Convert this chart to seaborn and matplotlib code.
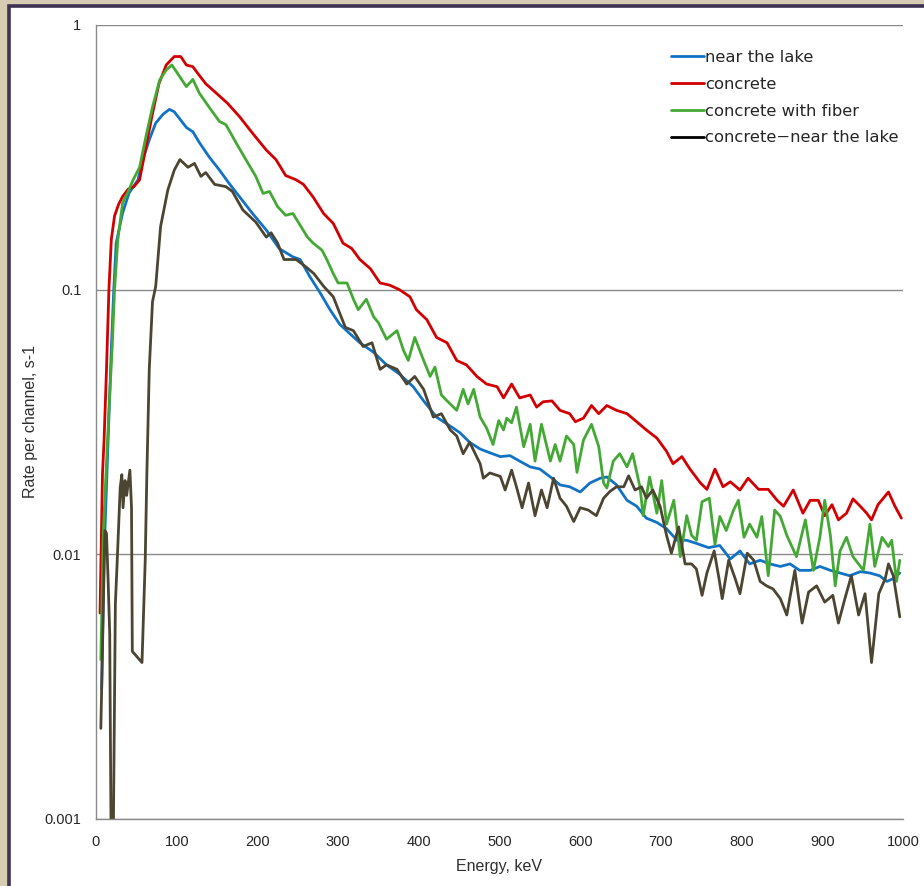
import matplotlib
matplotlib.use("Agg")
import matplotlib.pyplot as plt
from matplotlib.patches import Rectangle
from matplotlib.ticker import NullLocator, FixedLocator, FixedFormatter
import seaborn as sns
import pandas as pd

# ---------------- data ----------------
series_names = ["near the lake", "concrete", "concrete with fiber", "concrete\u2212near the lake"]

lake_energy = [7, 10, 15, 19, 22, 25, 33, 41, 52, 58, 66, 74, 83, 91, 97, 105, 112, 120, 128, 140,
               153, 165, 178, 194, 211, 227, 244, 253, 265, 278, 290, 302, 315, 327, 344, 360, 376, 393, 406, 422,
               439, 451, 463, 476, 488, 501, 513, 525, 538, 550, 563, 575, 587, 600, 612, 625, 633, 645, 658, 670,
               682, 695, 707, 720, 732, 744, 759, 773, 786, 798, 810, 823, 835, 848, 860, 872, 885, 897, 910, 922,
               934, 947, 959, 971, 980, 988, 996]
lake_rate = [0.0031, 0.01, 0.027, 0.06, 0.1, 0.15, 0.195, 0.232, 0.26, 0.31, 0.368, 0.426, 0.46, 0.48, 0.47, 0.437, 0.41, 0.395, 0.36, 0.318,
             0.283, 0.252, 0.224, 0.194, 0.168, 0.143, 0.133, 0.13, 0.112, 0.097, 0.084, 0.074, 0.068, 0.063, 0.058, 0.052, 0.048, 0.043, 0.038, 0.033,
             0.0305, 0.0288, 0.0265, 0.025, 0.0242, 0.0234, 0.0236, 0.0225, 0.0214, 0.021, 0.0196, 0.0183, 0.018, 0.0172, 0.0186, 0.0194, 0.0196, 0.0183, 0.016, 0.0152,
             0.0137, 0.0132, 0.0125, 0.0113, 0.0113, 0.011, 0.0106, 0.0108, 0.0096, 0.0103, 0.0092, 0.0095, 0.0092, 0.009, 0.0092, 0.0087, 0.0087, 0.009, 0.0087, 0.0085,
             0.0083, 0.0086, 0.0085, 0.0083, 0.0079, 0.0081, 0.0085]

concrete_energy = [5, 8, 10, 13, 16, 19, 23, 28, 33, 40, 47, 54, 62, 70, 78, 87, 97, 105, 112, 120,
                   126, 136, 149, 163, 178, 194, 211, 223, 235, 248, 257, 269, 282, 294, 306, 317, 327, 340, 352, 364,
                   376, 389, 397, 410, 422, 435, 447, 459, 472, 484, 497, 505, 515, 525, 538, 546, 554, 565, 575, 587,
                   594, 604, 614, 623, 633, 645, 658, 670, 682, 695, 707, 715, 726, 736, 749, 757, 767, 777, 786, 798,
                   808, 821, 833, 844, 852, 864, 876, 885, 895, 903, 912, 920, 930, 938, 947, 955, 961, 969, 982, 990, 998]
concrete_rate = [0.006, 0.02, 0.027, 0.05, 0.1, 0.155, 0.19, 0.21, 0.225, 0.24, 0.245, 0.26, 0.347, 0.463, 0.6, 0.706, 0.76, 0.76, 0.706, 0.696,
                 0.657, 0.6, 0.553, 0.506, 0.45, 0.39, 0.337, 0.31, 0.27, 0.26, 0.25, 0.224, 0.194, 0.178, 0.15, 0.143, 0.13, 0.12, 0.106, 0.104,
                 0.1, 0.094, 0.084, 0.077, 0.066, 0.063, 0.054, 0.052, 0.047, 0.044, 0.043, 0.039, 0.044, 0.039, 0.04, 0.036, 0.0377, 0.038, 0.035, 0.034,
                 0.0317, 0.0327, 0.0365, 0.034, 0.0365, 0.035, 0.034, 0.0317, 0.0295, 0.0275, 0.0245, 0.022, 0.0234, 0.021, 0.0186, 0.0176, 0.021, 0.018, 0.0188, 0.0175,
                 0.0194, 0.0176, 0.0176, 0.016, 0.0152, 0.0175, 0.0143, 0.016, 0.016, 0.014, 0.0154, 0.0135, 0.0143, 0.0162, 0.0152, 0.0143, 0.0135, 0.0154, 0.0172, 0.0152, 0.0137]

fiber_energy = [6, 9, 13, 16, 20, 23, 27, 33, 40, 46, 54, 62, 70, 79, 87, 94, 101, 112, 120, 128,
                140, 153, 161, 174, 186, 198, 207, 215, 225, 235, 244, 254, 262, 269, 280, 286, 294, 300, 311, 319,
                325, 335, 344, 350, 360, 373, 381, 387, 395, 404, 414, 420, 428, 435, 447, 455, 461, 468, 476, 484,
                492, 499, 505, 509, 515, 521, 530, 538, 544, 552, 563, 569, 575, 583, 592, 596, 604, 614, 623, 629,
                633, 641, 649, 658, 665, 674, 678, 686, 695, 701, 707, 716, 724, 732, 738, 744, 751, 760, 767, 773,
                781, 790, 796, 803, 810, 819, 825, 833, 841, 848, 856, 868, 879, 889, 897, 903, 910, 916, 922, 930,
                938, 951, 959, 965, 974, 982, 986, 992, 996]
fiber_rate = [0.004, 0.012, 0.022, 0.035, 0.06, 0.1, 0.154, 0.213, 0.235, 0.26, 0.29, 0.38, 0.49, 0.62, 0.676, 0.706, 0.657, 0.585, 0.623, 0.553,
              0.49, 0.432, 0.42, 0.357, 0.309, 0.268, 0.231, 0.235, 0.206, 0.191, 0.194, 0.173, 0.158, 0.15, 0.141, 0.13, 0.115, 0.106, 0.106, 0.092,
              0.084, 0.092, 0.079, 0.075, 0.065, 0.07, 0.059, 0.054, 0.066, 0.056, 0.047, 0.051, 0.04, 0.038, 0.035, 0.042, 0.037, 0.042, 0.033, 0.03,
              0.026, 0.032, 0.0295, 0.0327, 0.0314, 0.036, 0.0255, 0.031, 0.0225, 0.031, 0.0225, 0.026, 0.0225, 0.028, 0.026, 0.0204, 0.027, 0.031, 0.0255, 0.0186,
              0.0178, 0.0225, 0.024, 0.0214, 0.024, 0.018, 0.014, 0.0196, 0.0143, 0.019, 0.013, 0.016, 0.0098, 0.014, 0.0118, 0.0113, 0.0158, 0.0163, 0.0109, 0.0139,
              0.0123, 0.0147, 0.016, 0.0116, 0.013, 0.0116, 0.0139, 0.0083, 0.0147, 0.0139, 0.0118, 0.0098, 0.0135, 0.0087, 0.0116, 0.016, 0.0118, 0.0076, 0.0103, 0.0116,
              0.0098, 0.0087, 0.013, 0.009, 0.0116, 0.0107, 0.0113, 0.0079, 0.0095]

diff_energy = [6, 11, 13, 15, 17, 19, 21, 24, 26, 30, 32, 33.5, 36, 38, 42, 44, 45, 57, 61, 63,
               66, 70, 74, 80, 89, 97, 104, 114, 122, 130, 136, 147, 161, 169, 182, 198, 211, 217, 225, 233,
               248, 260, 270, 282, 294, 309, 319, 331, 342, 352, 360, 373, 385, 395, 406, 418, 428, 439, 447, 455,
               463, 476, 480, 488, 501, 507, 515, 521, 528, 536, 544, 552, 559, 567, 575, 583, 592, 600, 610, 620,
               629, 637, 645, 654, 660, 668, 676, 682, 690, 699, 707, 713, 722, 730, 738, 744, 751, 757, 766, 772,
               776, 784, 792, 798, 807, 815, 823, 831, 839, 848, 856, 866, 875, 883, 893, 903, 913, 920, 928, 936,
               945, 953, 961, 970, 978, 982, 988, 996]
diff_rate = [0.0022, 0.0123, 0.012, 0.008, 0.005, 0.0006, 0.0006, 0.0065, 0.009, 0.0179, 0.02, 0.015, 0.019, 0.0167, 0.0208, 0.015, 0.0043, 0.0039, 0.0095, 0.02,
             0.05, 0.09, 0.103, 0.173, 0.238, 0.283, 0.31, 0.29, 0.3, 0.268, 0.277, 0.25, 0.245, 0.235, 0.2, 0.18, 0.158, 0.164, 0.15, 0.13,
             0.13, 0.122, 0.115, 0.103, 0.094, 0.072, 0.07, 0.061, 0.063, 0.05, 0.052, 0.05, 0.044, 0.047, 0.042, 0.033, 0.034, 0.0295, 0.028, 0.024,
             0.0265, 0.022, 0.0194, 0.0203, 0.0197, 0.0175, 0.0208, 0.018, 0.015, 0.0186, 0.014, 0.0175, 0.015, 0.0194, 0.0163, 0.0152, 0.0133, 0.015, 0.0147, 0.014,
             0.0163, 0.0173, 0.018, 0.018, 0.0198, 0.0175, 0.018, 0.0163, 0.0175, 0.0152, 0.0118, 0.0101, 0.0127, 0.0092, 0.0092, 0.0088, 0.007, 0.0085, 0.0103, 0.0081,
             0.0068, 0.0095, 0.0081, 0.0071, 0.0101, 0.0095, 0.0079, 0.0076, 0.0074, 0.0068, 0.0059, 0.0087, 0.0055, 0.0072, 0.0076, 0.0066, 0.007, 0.0055, 0.0068, 0.0083,
             0.0059, 0.0071, 0.0039, 0.0071, 0.0081, 0.0092, 0.0083, 0.0058]

x_ticks = [0, 100, 200, 300, 400, 500, 600, 700, 800, 900, 1000]
y_ticks = [0.001, 0.01, 0.1, 1]
y_tick_labels = ["0.001", "0.01", "0.1", "1"]

# ---------------- build table ----------------
frames = []
for name, e, r in [(series_names[0], lake_energy, lake_rate),
                   (series_names[1], concrete_energy, concrete_rate),
                   (series_names[2], fiber_energy, fiber_rate),
                   (series_names[3], diff_energy, diff_rate)]:
    assert len(e) == len(r), (name, len(e), len(r))
    frames.append(pd.DataFrame({"Energy": e, "Rate": r, "series": name}))
df = pd.concat(frames, ignore_index=True)

# ---------------- style ----------------
sns.set_style("white")
plt.rcParams["font.family"] = ["Liberation Sans", "DejaVu Sans"]

W, H = 924, 886
fig = plt.figure(figsize=(W / 100, H / 100), dpi=100, facecolor="#d7ccb2")
panel = Rectangle((8.5 / W, -0.05), 1.2, (H - 5.5) / H + 0.05, transform=fig.transFigure,
                  facecolor="white", edgecolor="#3c3252", linewidth=2.6, zorder=-1)
fig.add_artist(panel)

ax = fig.add_axes([96 / W, (H - 819) / H, 807 / W, 794 / H])
ax.set_facecolor("white")

palette = {series_names[0]: "#1272c4", series_names[1]: "#d20000",
           series_names[2]: "#43a934", series_names[3]: "#4b4531"}

for name in series_names:
    sub = df[df["series"] == name]
    sns.lineplot(data=sub, x="Energy", y="Rate", ax=ax, color=palette[name], linewidth=2.0,
                 label=name, estimator=None, sort=False)

ax.set_yscale("log")
ax.set_xlim(0, 1000)
ax.set_ylim(0.001, 1)
ax.yaxis.set_major_locator(FixedLocator(y_ticks))
ax.yaxis.set_major_formatter(FixedFormatter(y_tick_labels))
ax.yaxis.set_minor_locator(NullLocator())
ax.set_xticks(x_ticks)

grid_c = "#8a8a8a"
ax.grid(axis="y", color=grid_c, linewidth=1.0)
ax.grid(axis="x", visible=False)
for s in ["top", "right"]:
    ax.spines[s].set_visible(False)
for s in ["left", "bottom"]:
    ax.spines[s].set_color(grid_c)
    ax.spines[s].set_linewidth(1.0)
ax.tick_params(axis="both", which="major", direction="out", length=4.5, width=1.0,
               color=grid_c, labelsize=10.5, labelcolor="#262626")
ax.tick_params(axis="y", pad=6)
ax.tick_params(axis="x", pad=7)

ax.set_xlabel("Energy, keV", fontsize=11.5, color="#303030")
ax.set_ylabel("Rate per channel, s-1", fontsize=11.5, color="#303030")
ax.xaxis.set_label_coords(0.5, -(866 - 819) / 794)
ax.xaxis.label.set_va("center")
ax.yaxis.set_label_coords(-(96 - 31) / 807, 0.5)
ax.yaxis.label.set_va("center")

leg = ax.legend(loc="upper left", bbox_to_anchor=(671 / W, (H - 50) / H), bbox_transform=fig.transFigure,
                frameon=False, borderpad=0, borderaxespad=0, handlelength=2.0, handletextpad=0.1,
                labelspacing=0.72, prop={"family": ["DejaVu Sans"], "size": 11.8})
for txt in leg.get_texts():
    txt.set_color("#262626")
leg.legend_handles[3].set_color("black")

fig.savefig("out.png", dpi=100, facecolor=fig.get_facecolor())
